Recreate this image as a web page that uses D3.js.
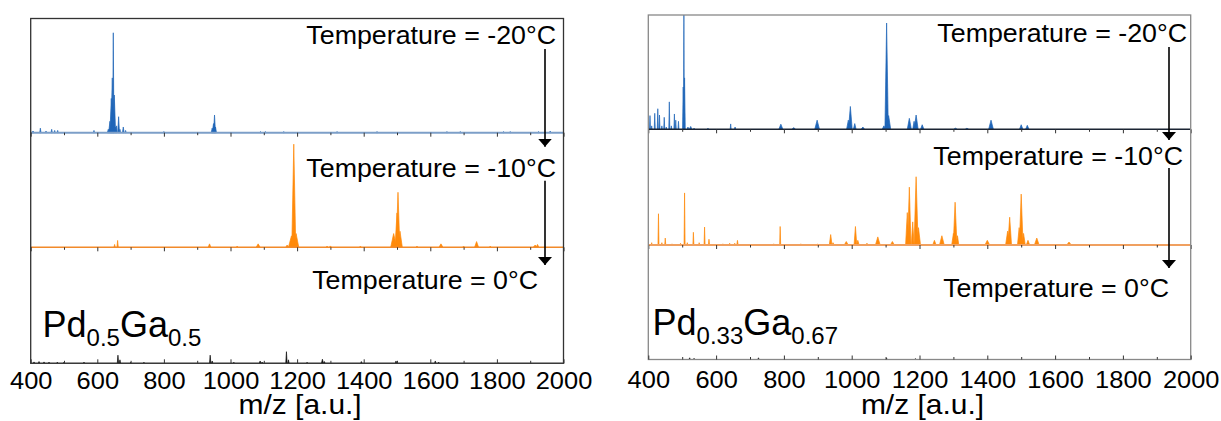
<!DOCTYPE html>
<html><head><meta charset="utf-8">
<script src="https://cdn.jsdelivr.net/npm/d3@7"></script>
<style>
html,body{margin:0;padding:0;background:#fff;}
svg{display:block;font-family:"Liberation Sans",Arial,sans-serif;}
</style></head>
<body><svg id="chart" width="1221" height="421"></svg>
<script>
// ---------------- DATA ----------------
const xTicks = [400, 600, 800, 1000, 1200, 1400, 1600, 1800, 2000];
const xMinorTicks = [500, 700, 900, 1100, 1300, 1500, 1700, 1900];
const temperatures = ["Temperature = -20°C", "Temperature = -10°C", "Temperature = 0°C"];
const axisTitle = "m/z [a.u.]";
const leftName = [["Pd", false], ["0.5", true], ["Ga", false], ["0.5", true]];
const rightName = [["Pd", false], ["0.33", true], ["Ga", false], ["0.67", true]];

// peaks: [m/z, relative height (fraction of panel), half width in m/z]
const leftMinus20 = [[407,0.015,3],[429,0.04,2],[446,0.015,2],[463,0.03,2],[472,0.02,2],[481,0.02,2],[590,0.02,2],
 [633,0.03,3],[638,0.1,4],[642,0.3,4],[645,0.48,4],[648,0.875,2],[651,0.33,4],[655,0.05,3],[658,0.06,2],
 [664,0.14,2.5],[668,0.03,2],[678,0.05,2.5],[685,0.02,2],[800,0.01,2],[945,0.04,3],[949,0.08,4],[952,0.155,3],
 [955,0.05,3],[1090,0.01,2],[1105,0.01,2],[1160,0.01,2],[1320,0.01,2],[1440,0.01,2],[1650,0.01,2],
 [1690,0.01,2],[1820,0.01,2],[1840,0.01,2],[1925,0.01,2],[1960,0.015,2]];
const leftMinus10 = [[652,0.025,2],[661,0.06,2],[937,0.03,4],[1020,0.01,3],[1083,0.03,6],[1170,0.02,4],
 [1183,0.1,9],[1190,0.9,6],[1197,0.12,8],[1290,0.01,3],[1300,0.012,3],[1390,0.01,3],[1490,0.12,9],
 [1500,0.3,6],[1503,0.48,5.5],[1509,0.14,7],[1560,0.01,3],[1632,0.03,6],[1700,0.01,3],[1739,0.05,6],
 [1780,0.01,3],[1915,0.02,6],[1922,0.025,4]];
const leftZero = [[410,0.012,2],[425,0.015,2],[440,0.012,2],[455,0.01,2],[480,0.01,2],[500,0.01,2],[560,0.01,2],
 [662,0.07,2],[668,0.03,2],[700,0.008,2],[740,0.008,2],[939,0.07,2],[945,0.02,2],[1010,0.008,2],
 [1089,0.02,2.5],[1095,0.01,2],[1168,0.1,2],[1174,0.03,2],[1230,0.008,2],[1276,0.035,3],[1282,0.015,2],
 [1393,0.015,2],[1497,0.02,2],[1615,0.02,2],[1625,0.01,2]];
const rightMinus20 = [[405,0.12,1.5],[410,0.03,1.5],[419,0.14,1.5],[428,0.18,1.5],[433,0.125,1.5],[440,0.03,1.5],
 [447,0.105,1.5],[453,0.02,1.5],[462,0.24,1.5],[468,0.03,1.5],[477,0.134,1.5],[481,0.08,1.5],[489,0.07,1.5],
 [503,0.37,2],[505,1.05,1.2],[507,0.45,2],[517,0.02,2],[525,0.025,4],[535,0.01,2],[576,0.01,2],
 [643,0.047,1.5],[656,0.02,2],[791,0.045,6],[829,0.015,5],[898,0.08,7],[990,0.08,5],[996,0.2,5.5],
 [1009,0.05,4],[1033,0.02,5],[1095,0.03,5],[1103,0.93,5],[1109,0.12,6],[1170,0.096,6],[1184,0.07,4],
 [1190,0.125,6],[1208,0.04,5],[1306,0.01,5],[1340,0.01,5],[1411,0.08,7],[1500,0.04,5],[1518,0.035,5]];
const rightMinus10 = [[410,0.02,1.5],[430,0.27,1.5],[440,0.02,1.5],[450,0.06,1.5],[470,0.01,1.5],[495,0.015,1.5],
 [507,0.45,1.5],[515,0.02,1.5],[533,0.11,1.5],[550,0.02,1.5],[566,0.155,1.5],[579,0.05,1.5],[620,0.01,2],
 [640,0.015,2],[655,0.015,2],[663,0.04,2],[720,0.008,2],[770,0.01,2],[789,0.16,1.5],[850,0.01,3],
 [900,0.008,3],[938,0.09,4],[945,0.02,3],[984,0.03,6],[1011,0.16,4],[1018,0.04,4],[1045,0.015,4],
 [1077,0.07,7],[1120,0.03,6],[1164,0.28,5],[1170,0.5,5],[1180,0.2,4],[1190,0.59,6],[1197,0.15,6],
 [1244,0.04,5],[1266,0.08,7],[1300,0.1,5],[1305,0.37,5.5],[1312,0.08,4],[1400,0.04,7],[1460,0.12,6],
 [1466,0.24,5.5],[1494,0.15,5],[1500,0.44,5.5],[1507,0.1,5],[1520,0.04,5],[1546,0.06,7],[1641,0.025,7],
 [1700,0.005,3]];
const rightZero = [[522,0.015,2],[535,0.01,2],[725,0.015,2],[1103,0.012,2],[1188,0.008,2]];

// ---------------- LAYOUT ----------------
const svg = d3.select("#chart");
const FONT = '"Liberation Sans", Arial, sans-serif';

function stretch(sel, f) {
  sel.each(function () {
    const L = this.getComputedTextLength();
    this.setAttribute("textLength", L * f);
    this.setAttribute("lengthAdjust", "spacingAndGlyphs");
  });
}

const figures = [
  {
    x0: 30.7, x1: 563.5,
    bands: [[18.5, 132.7], [132.7, 247.3], [247.3, 363.3]],
    series: [leftMinus20, leftMinus10, leftZero],
    fills: ["#1f65b8", "#ff8a0a", "#111"],
    baseColors: ["#7d9fc8", "#f28a2a", "#222"],
    baseWidths: [2, 1.5, 1],
    frameColor: "#333",
    labelRight: [556, 556, 538], labelBase: [44.3, 176.7, 289.3],
    arrowX: 545, arrows: [[49, 146.7], [180.7, 265]],
    name: leftName, nameX: 42.5, nameY: 337,
    tickY: 26
  },
  {
    x0: 648.3, x1: 1190.7,
    bands: [[15, 129.3], [129.3, 245], [245, 359.5]],
    series: [rightMinus20, rightMinus10, rightZero],
    fills: ["#1f65b8", "#ff8a0a", "#111"],
    baseColors: ["#1b2433", "#f0a060", "#222"],
    baseWidths: [1.5, 2, 1],
    frameColor: "#888",
    labelRight: [1187, 1183, 1169], labelBase: [41.5, 165, 296.7],
    arrowX: 1169, arrows: [[47, 140], [168, 268]],
    name: rightName, nameX: 652.5, nameY: 335,
    tickY: 28
  }
];

svg.append("defs").append("marker")
  .attr("id", "head").attr("viewBox", "0 0 8 14")
  .attr("refX", 8).attr("refY", 7).attr("markerWidth", 8).attr("markerHeight", 14)
  .attr("markerUnits", "userSpaceOnUse").attr("orient", "auto")
  .append("path").attr("d", "M0,0 L8,7 L0,14 Z").attr("fill", "#000");

figures.forEach((fig, fi) => {
  const x = d3.scaleLinear().domain([400, 2000]).range([fig.x0, fig.x1]);
  const g = svg.append("g");
  const clipId = "clip" + fi;
  const top = fig.bands[0][0], bottom = fig.bands[2][1];
  svg.select("defs").append("clipPath").attr("id", clipId)
    .append("rect").attr("x", fig.x0).attr("y", top).attr("width", fig.x1 - fig.x0).attr("height", bottom - top);

  fig.bands.forEach((band, bi) => {
    const y = d3.scaleLinear().domain([0, 1]).range([band[1], band[0]]);
    const area = d3.area().x(d => x(d[0])).y0(y(0)).y1(d => y(d[1]));
    const pg = g.append("g").attr("clip-path", `url(#${clipId})`);
    pg.selectAll("path.peak").data(fig.series[bi]).join("path")
      .attr("class", "peak")
      .attr("d", p => area([[p[0] - p[2], 0], [p[0], p[1]], [p[0] + p[2], 0]]))
      .attr("fill", fig.fills[bi])
      .attr("stroke", fig.fills[bi]).attr("stroke-width", 0.7)
      .attr("stroke-linejoin", "round");
    pg.append("line").attr("x1", x(400)).attr("x2", x(2000))
      .attr("y1", y(0)).attr("y2", y(0))
      .attr("stroke", fig.baseColors[bi]).attr("stroke-width", fig.baseWidths[bi]);

    if (bi < 2) {
      const ax = g.append("g").attr("transform", `translate(0,${band[1]})`)
        .call(d3.axisBottom(x).tickValues(xTicks).tickSize(4).tickFormat(""));
      const axm = g.append("g").attr("transform", `translate(0,${band[1]})`)
        .call(d3.axisBottom(x).tickValues(xMinorTicks).tickSize(2.5).tickFormat(""));
      [ax, axm].forEach(a => { a.select(".domain").remove(); a.selectAll("line").attr("stroke", "#333"); });
    }
  });

  g.append("rect").attr("x", fig.x0).attr("y", top)
    .attr("width", fig.x1 - fig.x0).attr("height", bottom - top)
    .attr("fill", "none").attr("stroke", fig.frameColor).attr("stroke-width", 1.3);

  const bAxis = g.append("g").attr("transform", `translate(0,${bottom})`)
    .call(d3.axisBottom(x).tickValues(xTicks).tickSizeInner(-4).tickSizeOuter(0).tickPadding(10).tickFormat(d3.format("d")));
  const bMinor = g.append("g").attr("transform", `translate(0,${bottom})`)
    .call(d3.axisBottom(x).tickValues(xMinorTicks).tickSizeInner(-2.5).tickSizeOuter(0).tickFormat(""));
  [bAxis, bMinor].forEach(a => { a.select(".domain").remove(); a.selectAll("line").attr("stroke", "#333"); });
  bAxis.selectAll("text")
    .attr("font-family", FONT).attr("font-size", 24).attr("fill", "#000")
    .attr("y", fig.tickY).attr("dy", 0);
  stretch(bAxis.selectAll("text"), 1.06);

  const title = g.append("text").attr("x", (fig.x0 + fig.x1) / 2 + 3).attr("y", 414)
    .attr("text-anchor", "middle").attr("font-family", FONT).attr("font-size", 28).text(axisTitle);
  stretch(title, 1.07);

  temperatures.forEach((t, i) => {
    const tx = g.append("text").attr("x", fig.labelRight[i]).attr("y", fig.labelBase[i])
      .attr("text-anchor", "end").attr("font-family", FONT).attr("font-size", 26).text(t);
    stretch(tx, 1.03);
  });

  fig.arrows.forEach(a => {
    g.append("line").attr("x1", fig.arrowX).attr("x2", fig.arrowX)
      .attr("y1", a[0]).attr("y2", a[1])
      .attr("stroke", "#000").attr("stroke-width", 1.6)
      .attr("marker-end", "url(#head)");
  });

  const nt = g.append("text").attr("x", fig.nameX).attr("y", fig.nameY)
    .attr("font-family", FONT).attr("font-size", 36);
  let shifted = false;
  fig.name.forEach(([s, sub]) => {
    const ts = nt.append("tspan").text(s);
    if (sub) { ts.attr("dy", 9).attr("font-size", 24); shifted = true; }
    else if (shifted) { ts.attr("dy", -9); shifted = false; }
  });
});
</script></body></html>
